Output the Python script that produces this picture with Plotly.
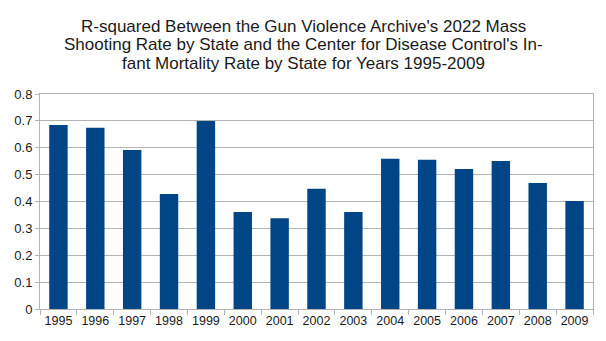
import plotly.graph_objects as go

years = ["1995", "1996", "1997", "1998", "1999", "2000", "2001", "2002",
         "2003", "2004", "2005", "2006", "2007", "2008", "2009"]
r_squared = [0.685, 0.674, 0.592, 0.428, 0.700, 0.361, 0.338, 0.447,
             0.361, 0.559, 0.555, 0.521, 0.551, 0.469, 0.402]
y_ticks = [0, 0.1, 0.2, 0.3, 0.4, 0.5, 0.6, 0.7, 0.8]
y_tick_labels = ["0", "0.1", "0.2", "0.3", "0.4", "0.5", "0.6", "0.7", "0.8"]

title_lines = ["R-squared Between the Gun Violence Archive's 2022 Mass",
               "Shooting Rate by State and the Center for Disease Control's In-",
               "fant Mortality Rate by State for Years 1995-2009"]

W, H = 606, 341
M_L, M_R, M_T, M_B = 40, 13, 94, 32
plot_h = H - M_T - M_B
plot_w = W - M_L - M_R

fig = go.Figure(go.Bar(x=years, y=r_squared, marker_color="#004586",
                       marker_line_width=0))

line_centers_px = [26.5, 45, 63.5]
for txt, py in zip(title_lines, line_centers_px):
    fig.add_annotation(text=txt, xref="paper", yref="paper",
                       x=(W / 2 - M_L) / plot_w, y=(H - M_B - py) / plot_h,
                       xanchor="center", yanchor="middle", showarrow=False,
                       font=dict(size=17, family="Liberation Sans, Arial, sans-serif",
                                 color="#1a1a1a"))

fig.update_layout(
    width=W, height=H,
    margin=dict(l=M_L, r=M_R, t=M_T, b=M_B),
    paper_bgcolor="white", plot_bgcolor="white",
    bargap=0.5,
    font=dict(family="Liberation Sans, Arial, sans-serif", color="#1a1a1a", size=13),
    showlegend=False,
)
fig.update_xaxes(showline=True, linecolor="#b3b3b3", linewidth=1, mirror=True,
                 ticks="outside", tickson="boundaries", ticklen=5, tickcolor="#b3b3b3",
                 showgrid=False, tickangle=0, tickfont=dict(size=12.5))
fig.update_yaxes(range=[0, 0.8], tickvals=y_ticks, ticktext=y_tick_labels,
                 showline=True, linecolor="#b3b3b3", linewidth=1, mirror=True,
                 ticks="outside", ticklen=4, tickcolor="#b3b3b3",
                 gridcolor="#b3b3b3", gridwidth=1, zeroline=False)

fig.write_html("out.html")
